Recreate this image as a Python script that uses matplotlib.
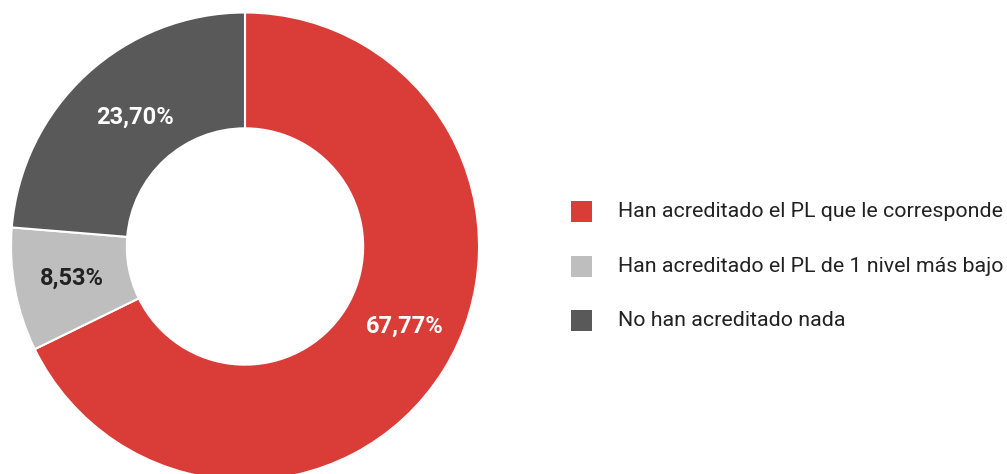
import matplotlib
matplotlib.use("Agg")
import matplotlib.pyplot as plt
from matplotlib.patches import Rectangle
import numpy as np

plt.rcParams['font.family'] = ['Roboto', 'DejaVu Sans']

categories = [
    "Han acreditado el PL que le corresponde",
    "Han acreditado el PL de 1 nivel más bajo",
    "No han acreditado nada",
]
values = [67.77, 8.53, 23.70]
colors = ["#DA3C38", "#BEBEBE", "#595959"]
label_colors = ["white", "#222222", "white"]
# fine placement of the percentage labels (pixels, x right / y up)
label_nudge = [(11, 13), (-1, 1), (9, 0)]

W, H = 1007, 474
fig = plt.figure(figsize=(W / 100, H / 100), dpi=100)

# donut axes: centre (245, 246.5) px from top-left, outer radius 234 px
cx, cy, R = 245, 246.5, 234
ax = fig.add_axes([(cx - R) / W, (H - cy - R) / H, 2 * R / W, 2 * R / H])
wedges, _ = ax.pie(values, colors=colors, startangle=90, counterclock=False,
                   radius=1.0,
                   wedgeprops=dict(width=0.495, edgecolor="white", linewidth=1.5))
ax.set_xlim(-1, 1)
ax.set_ylim(-1, 1)
ax.axis("off")

total = sum(values)
for w, v, tc, (dx, dy) in zip(wedges, values, label_colors, label_nudge):
    mid = np.deg2rad((w.theta1 + w.theta2) / 2)
    r = 0.75
    txt = f"{v / total * 100:.2f}%".replace(".", ",")
    ax.annotate(txt, (r * np.cos(mid), r * np.sin(mid)),
                xytext=(dx * 0.72, dy * 0.72), textcoords="offset points",
                ha="center", va="center",
                fontsize=17, fontweight="bold", color=tc)

# legend
row_y = [211.5, 266.5, 320.5]
sq = 21
for name, col, y in zip(categories, colors, row_y):
    fig.patches.append(Rectangle(((571) / W, (H - y - sq / 2) / H), sq / W, sq / H,
                                 transform=fig.transFigure, facecolor=col,
                                 edgecolor="none"))
    fig.text(618 / W, (H - y) / H, name, ha="left", va="center",
             fontsize=15.4, color="#222222")

fig.savefig("out.png", dpi=100, facecolor="white")
